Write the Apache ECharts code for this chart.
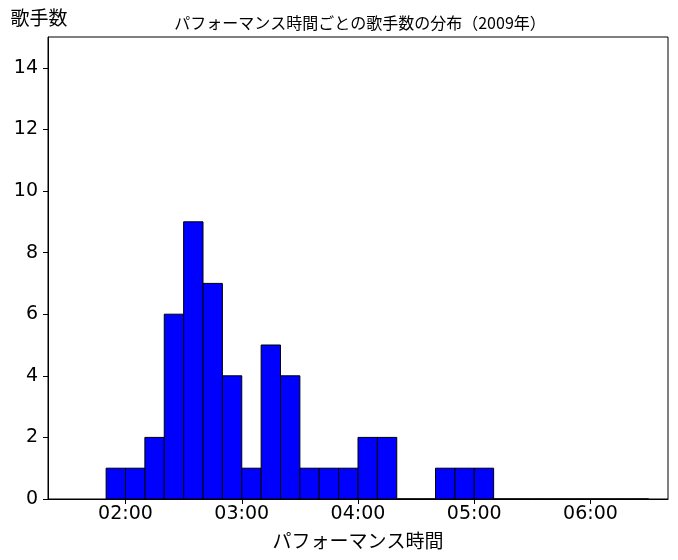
<!DOCTYPE html>
<html lang="ja">
<head>
    <meta charset="UTF-8">
    <title>パフォーマンス時間ごとの歌手数の分布</title>
    <script src="https://cdn.jsdelivr.net/npm/echarts@6/dist/echarts.min.js"></script>
    <style>
        html, body { margin: 0; padding: 0; background: #fff; }
    </style>
</head>
<body>
    <div id="main" style="width: 678px;height: 560px"></div>
    <script type="application/javascript">
        // ビンの開始（秒）と歌手数
        var binStarts = [110, 120, 130, 140, 150, 160, 170, 180, 190, 200, 210, 220, 230, 240,
                         250, 260, 270, 280, 290, 300, 310, 320, 330, 340, 350, 360, 370, 380];
        var counts    = [1, 1, 2, 6, 9, 7, 4, 1, 5, 4, 1, 1, 1, 2,
                         2, 0, 0, 1, 1, 1, 0, 0, 0, 0, 0, 0, 0, 0];
        var binWidth = 10;
        var xTicks = [120, 180, 240, 300, 360];
        var yTicks = [0, 2, 4, 6, 8, 10, 12, 14];

        var jpFont = '"Noto Sans CJK JP", sans-serif';
        var numFont = '"DejaVu Sans", sans-serif';

        function mmss(v) {
            var m = Math.floor(v / 60), s = Math.round(v % 60);
            return (m < 10 ? '0' : '') + m + ':' + (s < 10 ? '0' : '') + s;
        }

        var histData = [];
        for (var i = 0; i < binStarts.length; i++) {
            histData.push([binStarts[i], binStarts[i] + binWidth, counts[i]]);
        }

        var myChart = echarts.init(document.getElementById('main'));
        var option = {
            animation: false,
            title: {
                text: 'パフォーマンス時間ごとの歌手数の分布（2009年）',
                left: 355,
                textAlign: 'center',
                top: 10,
                textStyle: { fontFamily: jpFont, fontSize: 16, fontWeight: 'normal', color: '#000' }
            },
            grid: {
                left: 48, right: 10, top: 37, bottom: 61,
                show: true, borderColor: '#000', borderWidth: 1, backgroundColor: 'transparent'
            },
            xAxis: {
                type: 'value',
                min: 80,
                max: 400,
                name: 'パフォーマンス時間',
                nameLocation: 'middle',
                nameGap: 32,
                nameTextStyle: { fontFamily: jpFont, fontSize: 19, color: '#000' },
                splitLine: { show: false },
                axisLine: { lineStyle: { color: '#000', width: 1 } },
                axisTick: { show: true, length: 5, lineStyle: { color: '#000' }, customValues: xTicks },
                axisLabel: {
                    customValues: xTicks,
                    formatter: mmss,
                    margin: 6,
                    fontFamily: numFont, fontSize: 19, color: '#000'
                }
            },
            yAxis: {
                type: 'value',
                min: 0,
                max: 15,
                name: '歌手数',
                nameLocation: 'end',
                nameGap: 10,
                nameTextStyle: { fontFamily: jpFont, fontSize: 19, color: '#000', padding: [0, 18, 0, 0] },
                splitLine: { show: false },
                axisLine: { show: true, lineStyle: { color: '#000', width: 1 } },
                axisTick: { show: true, length: 5, lineStyle: { color: '#000' }, customValues: yTicks },
                axisLabel: {
                    customValues: yTicks,
                    margin: 10,
                    fontFamily: numFont, fontSize: 19, color: '#000'
                }
            },
            series: [{
                type: 'custom',
                data: histData,
                encode: { x: [0, 1], y: 2 },
                renderItem: function (params, api) {
                    var p0 = api.coord([api.value(0), 0]);
                    var p1 = api.coord([api.value(1), api.value(2)]);
                    return {
                        type: 'rect',
                        shape: { x: p0[0], y: p1[1], width: p1[0] - p0[0], height: p0[1] - p1[1] },
                        style: { fill: '#0000ff', stroke: '#000', lineWidth: 1 }
                    };
                }
            }]
        };
        myChart.setOption(option);
    </script>
</body>
</html>
